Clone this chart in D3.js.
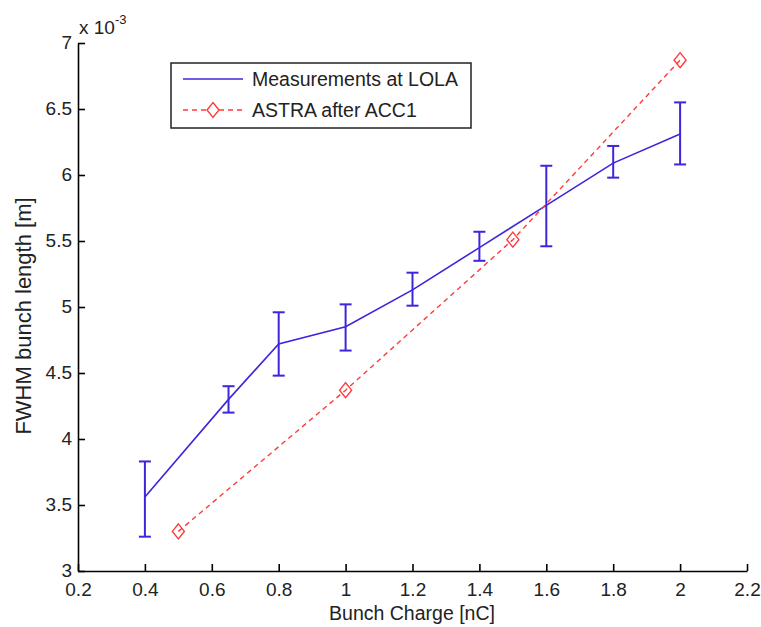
<!DOCTYPE html>
<html><head><meta charset="utf-8">
<script src="https://cdn.jsdelivr.net/npm/d3@7"></script>
<style>body{margin:0;background:#fff}svg{display:block;font-family:"Liberation Sans",Arial,sans-serif}</style>
</head><body><svg id="c" width="761" height="627"></svg>
<script>
// Data (bunch length in units of 1e-3 m)
const measCharge = [0.4, 0.65, 0.8, 1.0, 1.2, 1.4, 1.6, 1.8, 2.0];
const measLength = [3.56, 4.30, 4.72, 4.85, 5.13, 5.45, 5.77, 6.09, 6.31];
const measLow    = [3.26, 4.20, 4.48, 4.67, 5.01, 5.35, 5.46, 5.98, 6.08];
const measHigh   = [3.83, 4.40, 4.96, 5.02, 5.26, 5.57, 6.07, 6.22, 6.55];
const astraCharge = [0.5, 1.0, 1.5, 2.0];
const astraLength = [3.30, 4.37, 5.51, 6.87];
const xTicks = [0.2, 0.4, 0.6, 0.8, 1.0, 1.2, 1.4, 1.6, 1.8, 2.0, 2.2];
const yTicks = [3, 3.5, 4, 4.5, 5, 5.5, 6, 6.5, 7];
const legendLabels = ["Measurements at LOLA", "ASTRA after ACC1"];

const blue = "#3c26dc", red = "#ff3a3a";
const svg = d3.select("#c");
const x = d3.scaleLinear().domain([0.2, 2.2]).range([78, 747]);
const y = d3.scaleLinear().domain([3, 7]).range([571, 43]);
const fmt = d => String(+d.toFixed(1));

// axes
const gx = svg.append("g").attr("transform", "translate(0,571)")
  .call(d3.axisBottom(x).tickValues(xTicks).tickFormat(fmt).tickSizeInner(-7).tickSizeOuter(0).tickPadding(12));
const gy = svg.append("g").attr("transform", "translate(78,0)")
  .call(d3.axisLeft(y).tickValues(yTicks).tickFormat(fmt).tickSizeInner(-7).tickSizeOuter(0).tickPadding(6));
[gx, gy].forEach(g => {
  g.select(".domain").attr("stroke", "#000").attr("stroke-width", 1.6);
  g.selectAll(".tick line").attr("stroke", "#000").attr("stroke-width", 1.6);
  g.selectAll(".tick text").attr("fill", "#222").style("font-size", "19px").style("font-family", "Liberation Sans, Arial, sans-serif");
});
gy.selectAll(".tick text").attr("dy", "0.3em");

// exponent label
const ex = svg.append("text").attr("x", 79).attr("y", 34).attr("fill", "#222")
  .style("font-size", "19px").text("x 10");
ex.append("tspan").attr("dy", -10).style("font-size", "13px").text("-3");

// axis labels
svg.append("text").attr("x", 412).attr("y", 620).attr("text-anchor", "middle").attr("fill", "#222")
  .style("font-size", "19.5px").text("Bunch Charge [nC]");
svg.append("text").attr("transform", "translate(31,316) rotate(-90)").attr("text-anchor", "middle").attr("fill", "#222")
  .style("font-size", "22px").text("FWHM bunch length [m]");

// measurement line
const meas = measCharge.map((c, i) => ({c, v: measLength[i], lo: measLow[i], hi: measHigh[i]}));
svg.append("path").datum(meas).attr("fill", "none").attr("stroke", blue).attr("stroke-width", 1.6)
  .attr("d", d3.line().x(d => x(d.c)).y(d => y(d.v)));
const eb = svg.append("g").attr("stroke", blue).attr("stroke-width", 2).attr("fill", "none");
meas.forEach(d => {
  eb.append("line").attr("x1", x(d.c)).attr("x2", x(d.c)).attr("y1", y(d.lo)).attr("y2", y(d.hi));
  eb.append("line").attr("x1", x(d.c) - 6).attr("x2", x(d.c) + 6).attr("y1", y(d.lo)).attr("y2", y(d.lo));
  eb.append("line").attr("x1", x(d.c) - 6).attr("x2", x(d.c) + 6).attr("y1", y(d.hi)).attr("y2", y(d.hi));
});

// ASTRA line
const astra = astraCharge.map((c, i) => ({c, v: astraLength[i]}));
svg.append("path").datum(astra).attr("fill", "none").attr("stroke", red).attr("stroke-width", 1.4)
  .attr("stroke-dasharray", "5,4").attr("d", d3.line().x(d => x(d.c)).y(d => y(d.v)));
const diamond = (cx, cy) => `M${cx},${cy - 7.5}L${cx + 6},${cy}L${cx},${cy + 7.5}L${cx - 6},${cy}Z`;
svg.append("g").selectAll("path").data(astra).join("path")
  .attr("d", d => diamond(x(d.c), y(d.v))).attr("fill", "none").attr("stroke", red).attr("stroke-width", 1.4);

// legend
const lg = svg.append("g");
lg.append("rect").attr("x", 171).attr("y", 63).attr("width", 300).attr("height", 65)
  .attr("fill", "#fff").attr("stroke", "#222").attr("stroke-width", 1.5);
lg.append("line").attr("x1", 183).attr("x2", 243).attr("y1", 79).attr("y2", 79).attr("stroke", blue).attr("stroke-width", 1.6);
lg.append("line").attr("x1", 183).attr("x2", 243).attr("y1", 110).attr("y2", 110).attr("stroke", red).attr("stroke-width", 1.4).attr("stroke-dasharray", "5,4");
lg.append("path").attr("d", diamond(213, 110)).attr("fill", "#fff").attr("stroke", red).attr("stroke-width", 1.4);
legendLabels.forEach((t, i) => lg.append("text").attr("x", 252).attr("y", 79 + i * 31).attr("dy", "0.36em")
  .attr("fill", "#222").style("font-size", "19.5px").text(t));
</script></body></html>
